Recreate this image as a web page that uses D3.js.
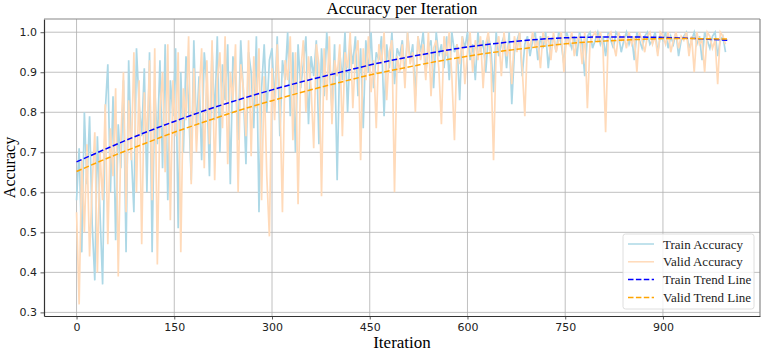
<!DOCTYPE html>
<html>
<head>
<meta charset="utf-8">
<script src="https://cdn.jsdelivr.net/npm/d3@7"></script>
<style>
  body { margin: 0; background: #fff; }
  svg { display: block; }
</style>
</head>
<body>
<svg id="chart"></svg>
<script>
// ---------------------- data ---------------------------
// accuracy sampled every 4 iterations (0, 4, ..., 996)
const step = 4;
const trainAcc = [
  0.58,0.71,0.45,0.80,0.62,0.79,0.52,0.38,0.74,0.55,0.37,0.80,0.92,0.60,0.84,0.48,0.77,0.66,0.88,0.45,0.93,0.70,0.55,0.96,0.82,
  0.74,0.91,0.60,0.95,0.45,0.86,0.72,0.93,0.66,0.97,0.58,0.88,0.79,0.96,0.51,0.90,0.70,0.94,0.82,0.63,0.98,0.75,0.89,0.68,0.95,
  0.87,0.64,0.96,0.78,0.99,0.70,0.92,0.83,0.97,0.62,0.94,0.88,0.73,0.98,0.85,0.67,0.95,0.90,0.76,0.99,0.55,0.86,0.97,0.80,0.93,
  0.96,0.82,0.99,0.74,0.93,0.88,1.00,0.79,0.95,0.70,0.97,0.86,0.92,0.99,0.77,0.94,0.89,0.98,0.72,0.96,0.84,1.00,0.91,0.81,0.97,
  0.63,0.95,0.88,1.00,0.80,0.97,0.92,0.99,0.84,0.96,0.76,0.98,0.90,1.00,0.86,0.95,0.93,0.99,0.79,0.97,0.91,1.00,0.87,0.96,0.94,
  0.98,0.89,1.00,0.93,0.97,0.84,0.99,0.95,1.00,0.90,0.96,0.98,0.86,1.00,0.94,0.97,0.91,0.99,0.88,1.00,0.95,0.97,0.83,0.99,0.96,
  1.00,0.93,0.97,0.88,1.00,0.95,0.98,0.90,0.99,0.96,0.85,1.00,0.94,0.97,0.99,0.91,1.00,0.82,0.95,0.98,1.00,0.89,0.97,0.99,0.94,
  0.98,1.00,0.93,0.99,0.96,1.00,0.91,0.98,0.99,0.95,1.00,0.97,0.92,1.00,0.98,0.96,0.99,0.94,1.00,0.97,0.89,0.99,1.00,0.96,0.98,
  1.00,0.97,0.99,0.94,1.00,0.98,0.96,1.00,0.99,0.95,0.98,1.00,0.97,0.99,0.93,1.00,0.98,0.96,0.99,1.00,0.97,0.98,1.00,0.95,0.99,
  0.98,1.00,0.96,0.99,0.97,1.00,0.94,0.98,0.99,1.00,0.96,0.98,1.00,0.97,0.99,0.93,1.00,0.98,0.96,0.99,1.00,0.94,0.98,0.99,0.95
];
const validAcc = [
  0.55,0.32,0.68,0.50,0.72,0.44,0.62,0.75,0.40,0.70,0.58,0.82,0.47,0.76,0.64,0.86,0.39,0.73,0.90,0.55,0.83,0.68,0.95,0.60,0.88,
  0.47,0.85,0.72,0.93,0.58,0.96,0.42,0.80,0.90,0.65,0.97,0.53,0.88,0.74,0.95,0.45,0.86,0.78,0.99,0.62,0.91,0.70,0.84,0.96,0.66,
  0.93,0.72,0.98,0.63,0.88,0.95,0.76,0.99,0.67,0.90,0.83,0.97,0.60,0.92,0.86,0.74,0.98,0.69,0.94,0.81,0.96,0.58,0.89,0.64,0.49,
  0.91,0.78,0.97,0.84,0.55,0.93,0.88,0.99,0.73,0.95,0.57,0.90,0.98,0.80,0.94,0.86,0.71,0.97,0.92,0.59,0.96,0.83,0.99,0.77,0.93,
  0.89,0.97,0.74,0.95,0.91,1.00,0.81,0.94,0.98,0.68,0.96,0.88,0.99,0.85,0.93,0.76,0.97,0.92,1.00,0.83,0.95,0.98,0.60,0.94,0.90,
  0.97,0.86,1.00,0.92,0.95,0.80,0.99,0.93,0.97,0.88,1.00,0.84,0.96,0.98,0.91,0.77,0.99,0.94,1.00,0.89,0.73,0.97,0.92,0.99,0.87,
  0.95,1.00,0.90,0.98,0.93,0.99,0.86,0.97,1.00,0.92,0.68,0.96,0.99,0.89,1.00,0.94,0.97,0.87,0.99,0.95,1.00,0.91,0.79,0.98,0.96,
  1.00,0.96,0.98,0.91,1.00,0.97,0.99,0.93,1.00,0.95,0.98,1.00,0.90,0.99,0.97,1.00,0.94,0.98,0.99,0.92,1.00,0.81,0.97,0.99,1.00,
  0.98,1.00,0.96,0.75,0.99,1.00,0.97,0.94,1.00,0.98,0.99,0.96,1.00,0.97,0.99,0.90,1.00,0.98,0.95,0.99,1.00,0.97,0.99,0.94,1.00,
  0.99,0.97,1.00,0.95,0.98,1.00,0.96,0.99,0.98,1.00,0.94,0.99,0.90,1.00,0.97,0.98,0.90,1.00,0.99,0.96,0.98,0.87,1.00,0.99,0.97
];
// trend lines read every 50 iterations
const trendIters = [0,50,100,150,200,250,300,350,400,450,500,550,600,650,700,750,800,850,900,950,999];
const trainTrend = [0.676,0.712,0.746,0.777,0.806,0.832,0.856,0.878,0.898,0.918,0.935,0.950,0.963,0.973,0.981,0.986,0.988,0.988,0.987,0.984,0.980];
const validTrend = [0.652,0.687,0.719,0.750,0.778,0.805,0.829,0.852,0.873,0.893,0.910,0.926,0.940,0.952,0.962,0.971,0.977,0.981,0.984,0.984,0.983];
const xTicks = [0,150,300,450,600,750,900];
const yTicks = [0.3,0.4,0.5,0.6,0.7,0.8,0.9,1.0];

// ---------------------- layout ---------------------------
const width = 763;
const height = 353;
const margin = {left: 44, right: 3, top: 19, bottom: 37};
const serif = "'Liberation Serif', 'Times New Roman', serif";
const sans = "'DejaVu Sans', sans-serif";

const svg = d3.select("#chart")
  .attr("width", width)
  .attr("height", height);

const xScale = d3.scaleLinear()
  .domain([-49.95, 1048.95])
  .range([margin.left, width - margin.right]);

const yScale = d3.scaleLinear()
  .domain([0.291, 1.033])
  .range([height - margin.bottom, margin.top]);

// grid
svg.append("g")
  .selectAll("line")
  .data(xTicks)
  .join("line")
  .attr("x1", d => xScale(d)).attr("x2", d => xScale(d))
  .attr("y1", margin.top).attr("y2", height - margin.bottom)
  .attr("stroke", "#b0b0b0").attr("stroke-width", 0.8);

svg.append("g")
  .selectAll("line")
  .data(yTicks)
  .join("line")
  .attr("x1", margin.left).attr("x2", width - margin.right)
  .attr("y1", d => yScale(d)).attr("y2", d => yScale(d))
  .attr("stroke", "#b0b0b0").attr("stroke-width", 0.8);

// data lines
const trainPts = trainAcc.map((v, i) => ({x: i * step, y: v}));
const validPts = validAcc.map((v, i) => ({x: i * step, y: v}));
const line = d3.line().x(d => xScale(d.x)).y(d => yScale(d.y));
const trendLine = d3.line().x(d => xScale(d.x)).y(d => yScale(d.y)).curve(d3.curveNatural);

svg.append("path").datum(trainPts)
  .attr("d", line).attr("fill", "none")
  .attr("stroke", "lightblue").attr("stroke-width", 1.7);

svg.append("path").datum(validPts)
  .attr("d", line).attr("fill", "none")
  .attr("stroke", "peachpuff").attr("stroke-width", 1.7);

svg.append("path").datum(trendIters.map((x, i) => ({x: x, y: trainTrend[i]})))
  .attr("d", trendLine).attr("fill", "none")
  .attr("stroke", "blue").attr("stroke-width", 1.5)
  .attr("stroke-dasharray", "5.5,2.4");

svg.append("path").datum(trendIters.map((x, i) => ({x: x, y: validTrend[i]})))
  .attr("d", trendLine).attr("fill", "none")
  .attr("stroke", "orange").attr("stroke-width", 1.5)
  .attr("stroke-dasharray", "5.5,2.4");

// axes
const xAxis = svg.append("g")
  .attr("transform", "translate(0," + (height - margin.bottom) + ")")
  .call(d3.axisBottom(xScale).tickValues(xTicks).tickSize(3.5).tickPadding(3.5).tickSizeOuter(0));

const yAxis = svg.append("g")
  .attr("transform", "translate(" + margin.left + ",0)")
  .call(d3.axisLeft(yScale).tickValues(yTicks).tickFormat(d3.format(".1f")).tickSize(3.5).tickPadding(3.5).tickSizeOuter(0));

[xAxis, yAxis].forEach(a => {
  a.selectAll("text").attr("font-family", sans).attr("font-size", 11).attr("fill", "#222");
  a.selectAll("line").attr("stroke", "#333").attr("stroke-width", 0.8);
  a.select(".domain").attr("stroke", "#333").attr("stroke-width", 1.2);
});

// top and right spines
svg.append("line")
  .attr("x1", margin.left).attr("x2", width - margin.right)
  .attr("y1", margin.top).attr("y2", margin.top)
  .attr("stroke", "#888").attr("stroke-width", 1.2);
svg.append("line")
  .attr("x1", width - margin.right).attr("x2", width - margin.right)
  .attr("y1", margin.top).attr("y2", height - margin.bottom)
  .attr("stroke", "#888").attr("stroke-width", 1.2);

// titles
svg.append("text")
  .attr("x", (margin.left + width - margin.right) / 2).attr("y", 14)
  .attr("text-anchor", "middle")
  .attr("font-family", serif).attr("font-size", 16.8)
  .text("Accuracy per Iteration");

svg.append("text")
  .attr("x", (margin.left + width - margin.right) / 2).attr("y", 348)
  .attr("text-anchor", "middle")
  .attr("font-family", serif).attr("font-size", 17)
  .text("Iteration");

svg.append("text")
  .attr("transform", "translate(15," + ((margin.top + height - margin.bottom) / 2) + ") rotate(-90)")
  .attr("text-anchor", "middle")
  .attr("font-family", serif).attr("font-size", 16)
  .text("Accuracy");

// legend
const legendItems = [
  {label: "Train Accuracy", color: "lightblue", dash: null},
  {label: "Valid Accuracy", color: "peachpuff", dash: null},
  {label: "Train Trend Line", color: "blue", dash: "5.5,2.4"},
  {label: "Valid Trend Line", color: "orange", dash: "5.5,2.4"}
];
const legend = svg.append("g").attr("transform", "translate(623,234)");
legend.append("rect")
  .attr("width", 131).attr("height", 75).attr("rx", 2.5)
  .attr("fill", "white").attr("fill-opacity", 0.8)
  .attr("stroke", "#d6d6d6").attr("stroke-width", 0.8);
const rows = legend.selectAll("g.row")
  .data(legendItems)
  .join("g")
  .attr("transform", (d, i) => "translate(0," + (10 + i * 17.8) + ")");
rows.append("line")
  .attr("x1", 5).attr("x2", 31)
  .attr("stroke", d => d.color).attr("stroke-width", 1.5)
  .attr("stroke-dasharray", d => d.dash);
rows.append("text")
  .attr("x", 40).attr("y", 4.5)
  .attr("font-family", serif).attr("font-size", 13).attr("fill", "#222")
  .text(d => d.label);
</script>
</body>
</html>
